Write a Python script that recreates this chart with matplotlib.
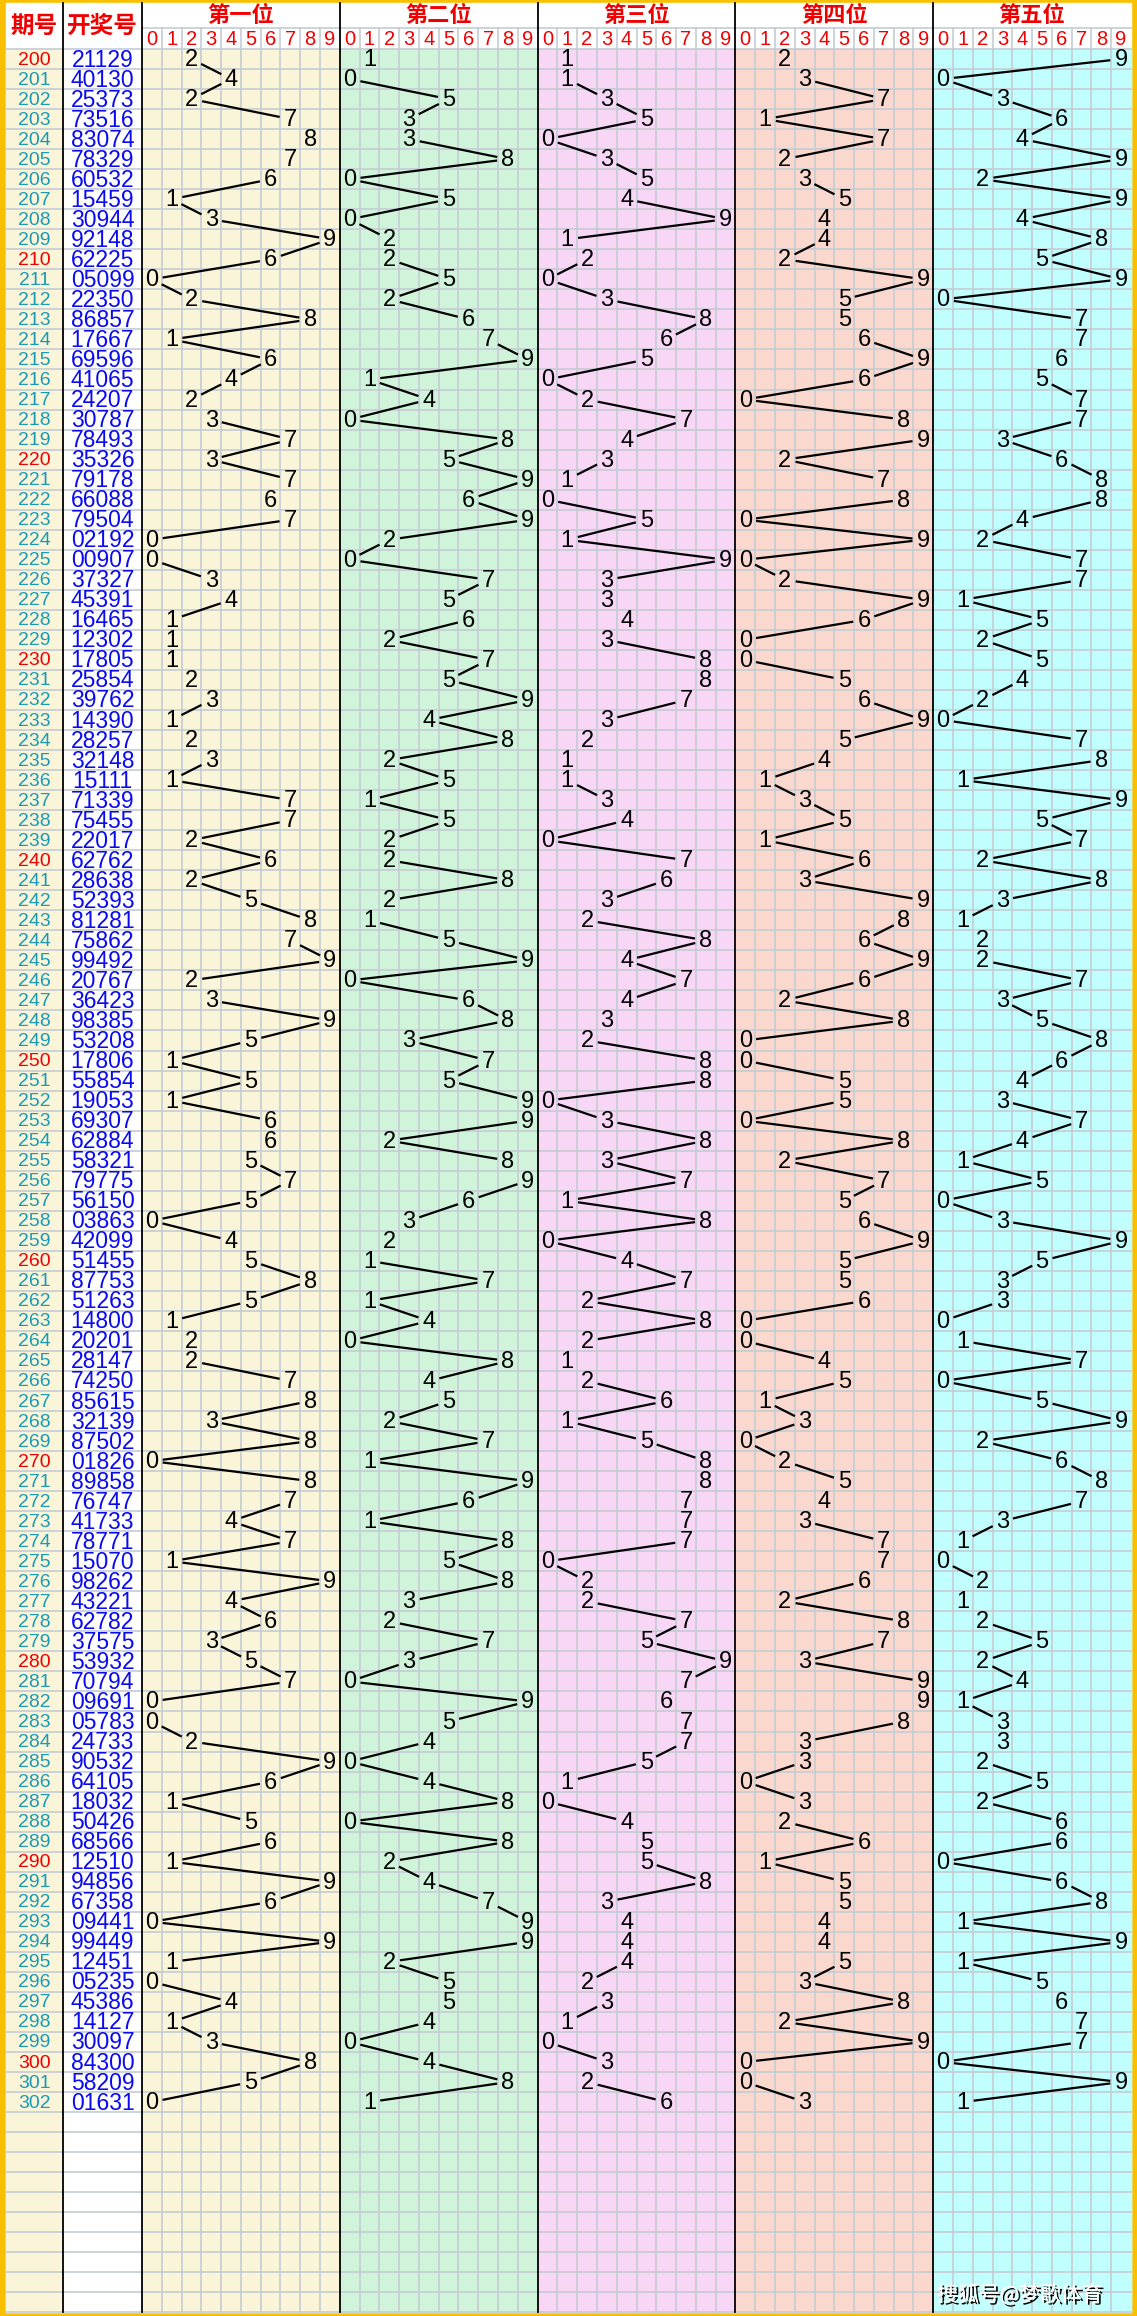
import matplotlib
matplotlib.use("Agg")
import matplotlib.pyplot as plt
import matplotlib.patheffects as pe
from matplotlib.patches import Rectangle
import math

periods = list(range(200, 303))
numbers = ["21129","40130","25373","73516","83074","78329","60532","15459","30944","92148",
           "62225","05099","22350","86857","17667","69596","41065","24207","30787","78493",
           "35326","79178","66088","79504","02192","00907","37327","45391","16465","12302",
           "17805","25854","39762","14390","28257","32148","15111","71339","75455","22017",
           "62762","28638","52393","81281","75862","99492","20767","36423","98385","53208",
           "17806","55854","19053","69307","62884","58321","79775","56150","03863","42099",
           "51455","87753","51263","14800","20201","28147","74250","85615","32139","87502",
           "01826","89858","76747","41733","78771","15070","98262","43221","62782","37575",
           "53932","70794","09691","05783","24733","90532","64105","18032","50426","68566",
           "12510","94856","67358","09441","99449","12451","05235","45386","14127","30097",
           "84300","58209","01631"]
panel_titles = ["第一位", "第二位", "第三位", "第四位", "第五位"]
panel_colors = ["#FAF5D8", "#D0F4DA", "#F8D6F6", "#FBD8CE", "#C0FFFE"]
digits = list(range(10))

W, H = 1137, 2316
fig = plt.figure(figsize=(W/100, H/100), dpi=100)
ax = fig.add_axes([0, 0, 1, 1])
ax.set_xlim(0, W); ax.set_ylim(H, 0); ax.axis("off")
CJK = ["Noto Sans CJK SC", "DejaVu Sans"]
NUM = "Liberation Sans"

gold = "#F8C000"
ax.add_patch(Rectangle((0, 0), W, H, color=gold, zorder=0))
L, R, T, B = 6, 1131, 3, 2312
x_per, x_num, x_p0 = L, 63, 142
pw = (R - x_p0) / 5
cw = pw / 10
y_t, y_d, y0 = T, 28, 49
rh = 20.03
nrows = int(round((B - y0) / rh))

ax.add_patch(Rectangle((L, T), R-L, B-T, color="white", zorder=0.5))
ax.add_patch(Rectangle((x_per, y0), x_num-x_per, B-y0, color="#FAF5D8", zorder=1))
for p in range(5):
    ax.add_patch(Rectangle((x_p0+p*pw, y0), pw, B-y0, color=panel_colors[p], zorder=1))

gc = "#C4CCD4"
for i in range(nrows+1):
    y = y0 + i*rh
    ax.plot([x_per, R], [y, y], color=gc, lw=1.2, zorder=2)
ax.plot([x_p0, R], [y_d, y_d], color=gc, lw=1.2, zorder=2)
for p in range(5):
    for d in range(1, 10):
        x = x_p0 + p*pw + d*cw
        ax.plot([x, x], [y_d, B], color=gc, lw=1.2, zorder=2)
for x in [x_num, x_p0] + [x_p0+p*pw for p in range(1, 5)]:
    ax.plot([x, x], [T, B], color="black", lw=1.3, zorder=3)

red = "#F00000"
ax.text((x_per+x_num)/2, (T+y0)/2, "期号", family=CJK, fontsize=17, color=red,
        weight="bold", ha="center", va="center", zorder=4)
ax.text((x_num+x_p0)/2, (T+y0)/2, "开奖号", family=CJK, fontsize=17, color=red,
        weight="bold", ha="center", va="center", zorder=4)
for p in range(5):
    ax.text(x_p0+p*pw+pw/2, (y_t+y_d)/2, panel_titles[p], family=CJK, fontsize=16,
            color=red, weight="bold", ha="center", va="center", zorder=4)
    for d in digits:
        ax.text(x_p0+p*pw+(d+0.5)*cw, (y_d+y0)/2+1, str(d), family=NUM, fontsize=14.5,
                color=red, ha="center", va="center", zorder=4)

for i, (per, num) in enumerate(zip(periods, numbers)):
    yc = y0 + (i+0.5)*rh
    ax.text((x_per+x_num)/2, yc+1, str(per), family=NUM, fontsize=14,
            color=red if per % 10 == 0 else "#1A9AB4", ha="center", va="center", zorder=4)
    ax.text((x_num+x_p0)/2, yc+1, num, family=NUM, fontsize=16.5, color="#0A0AF0",
            ha="center", va="center", zorder=4)

for p in range(5):
    vals = [int(num[p]) for num in numbers]
    pts = [(x_p0+p*pw+(v+0.5)*cw, y0+(i+0.5)*rh) for i, v in enumerate(vals)]
    for k in range(len(pts)-1):
        if abs(vals[k+1]-vals[k]) <= 1:
            continue
        (xa, ya), (xb, yb) = pts[k], pts[k+1]
        dx, dy = xb-xa, yb-ya
        dist = math.hypot(dx, dy)
        s = 12
        ax.plot([xa+dx*s/dist, xb-dx*s/dist], [ya+dy*s/dist, yb-dy*s/dist],
                color="black", lw=1.6, zorder=3)
    for (x, y), v in zip(pts, vals):
        ax.text(x, y+1, str(v), family=NUM, fontsize=17, color="black",
                ha="center", va="center", zorder=4)

ax.text(1020, 2295, "搜狐号@梦歌体育", family=CJK, fontsize=15, color="white",
        ha="center", va="center", zorder=5,
        path_effects=[pe.withSimplePatchShadow(offset=(1.5, -1.5), shadow_rgbFace="black", alpha=1), pe.Normal()])

fig.savefig("out.png", dpi=100)
